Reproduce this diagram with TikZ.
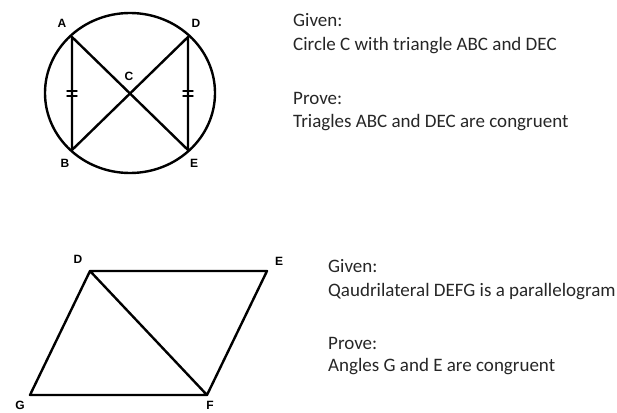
\documentclass[tikz,border=0pt]{standalone}
\usepackage{fontspec}
\setmainfont{Carlito}
\newfontfamily\lblfont{Liberation Sans}
\usetikzlibrary{calc}
\tikzset{
  fig/.style={line width=2.4pt, line join=round, line cap=round},
  tick/.style={line width=1.4pt},
  vlab/.style={font=\lblfont\bfseries\fontsize{12}{12}\selectfont},
  txt/.style={anchor=west, inner sep=0pt, text=black!85, font=\fontsize{19}{19}\selectfont}
}
\begin{document}
\begin{tikzpicture}[x=1pt, y=-1pt, line join=round, line cap=round]
\useasboundingbox (0,0) rectangle (617,412);
% circle with two triangles
\coordinate (A) at (72,37);
\coordinate (D) at (188,37);
\coordinate (B) at (72,150);
\coordinate (E) at (188,150);
\coordinate (C) at (130,93);
\draw[fig] (C) ellipse [x radius=85, y radius=80];
\draw[fig] (A)--(B)--(D)--(E)--(A);
\foreach \p/\q in {A/B,D/E}{
  \draw[tick] ($(\p)!0.5!(\q)+(-5,-2.5)$)--++(10,0);
  \draw[tick] ($(\p)!0.5!(\q)+(-5,2.5)$)--++(10,0);
}
\node[vlab] (lA) at (62,23) {A};
\node[vlab] (lD) at (196,23) {D};
\node[vlab] (lB) at (65,163) {B};
\node[vlab] (lE) at (194,163) {E};
\node[vlab] (lC) at (129,76) {C};
\node[txt] (g1) at (293,20) {Given:};
\node[txt] (g1t) at (293,46) {Circle C with triangle ABC and DEC};
\node[txt] (p1) at (293,98) {Prove:};
\node[txt] (p1t) at (293,123) {Triagles ABC and DEC are congruent};
% parallelogram
\coordinate (D2) at (90,271);
\coordinate (E2) at (267,271);
\coordinate (F2) at (207,395);
\coordinate (G2) at (30,395);
\draw[fig] (D2)--(E2)--(F2)--(G2)--cycle (D2)--(F2);
\node[vlab] (lD2) at (78,259) {D};
\node[vlab] (lE2) at (279,261) {E};
\node[vlab] (lG2) at (20,405) {G};
\node[vlab] (lF2) at (210,405) {F};
\node[txt] (g2) at (328,266) {Given:};
\node[txt] (g2t) at (328,292) {Qaudrilateral DEFG is a parallelogram};
\node[txt] (p2) at (328,343) {Prove:};
\node[txt] (p2t) at (328,367) {Angles G and E are congruent};
\end{tikzpicture}
\end{document}
